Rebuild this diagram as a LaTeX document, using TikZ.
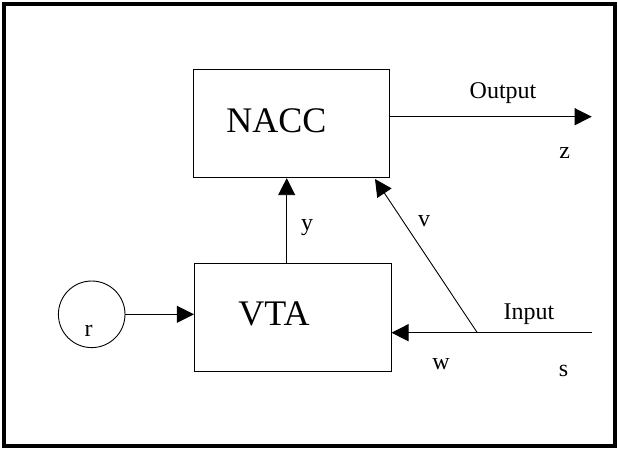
\documentclass[tikz,border=0pt]{standalone}
\usepackage{fontspec}
\setmainfont{Liberation Serif}
\usetikzlibrary{arrows.meta}
\tikzset{
  blockbox/.style={draw, line width=0.9pt, inner sep=0pt},
  conn/.style={line width=0.9pt},
  arr/.style={conn, -{Triangle[length=17pt,width=17pt]}},
  bigtxt/.style={inner sep=0pt, anchor=base, font=\fontsize{36}{40}\selectfont},
  lbl/.style={inner sep=0pt, anchor=base, font=\fontsize{24}{28}\selectfont},
}
\begin{document}
\begin{tikzpicture}[x=1pt,y=-1pt]
\useasboundingbox (0,0) rectangle (618,448);
\draw[line width=4pt] (4,4) rectangle (615,446);
% blocks
\node[blockbox, minimum width=196pt, minimum height=108.4pt] (nacc) at (291.3,123.5) {};
\node[blockbox, minimum width=196.7pt, minimum height=107.7pt] (vta) at (292.7,317.2) {};
\node[draw, circle, line width=0.9pt, minimum size=66.6pt, inner sep=0pt] (r) at (91.7,314.3) {};
% texts
\node[bigtxt] (nacct) at (276.3,132.7) {NACC};
\node[bigtxt] (vtat) at (274,325) {VTA};
\node[lbl] (rt) at (88.5,336.7) {r};
\node[lbl] (outt) at (503,98.3) {Output};
\node[lbl] (zt) at (564.7,158) {z};
\node[lbl] (yt) at (307,230) {y};
\node[lbl] (vt) at (424,226) {v};
\node[lbl] (int) at (529,319.3) {Input};
\node[lbl] (wt) at (441,369.3) {w};
\node[lbl] (st) at (563.5,376.7) {s};
% coordinates
\coordinate (ycol) at (286.7,0);
\coordinate (outend) at (591.7,116.7);
\coordinate (inend) at (591.7,332.7);
\coordinate (junc) at (477.3,332.7);
\coordinate (vtip) at (375,179);
% connectors
\draw[arr] (r.east) -- (vta.west |- r.east);
\draw[arr] (vta.north -| ycol) -- (nacc.south -| ycol);
\draw[arr] (nacc.east |- outend) -- (outend);
\draw[arr] (inend) -- (vta.east |- inend);
\draw[arr] (junc) -- (vtip);
\end{tikzpicture}
\end{document}
